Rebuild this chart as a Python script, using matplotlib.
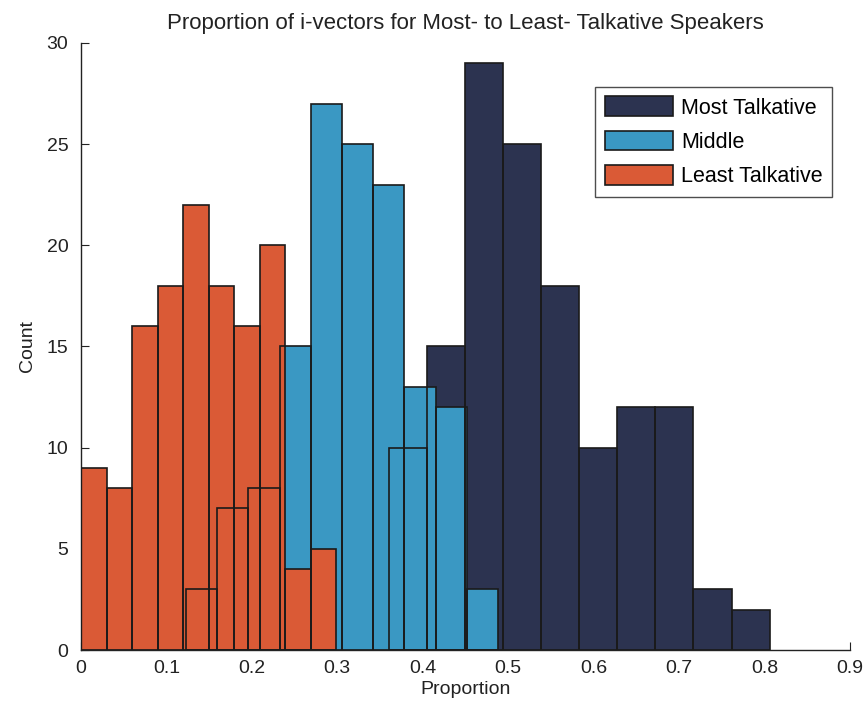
import numpy as np
import matplotlib
matplotlib.use("Agg")
import matplotlib.pyplot as plt
from matplotlib.patches import Patch

plt.rcParams['font.family'] = ['Liberation Sans', 'DejaVu Sans']

# histogram counts (10 bins each) and bin ranges
labels = ['Most Talkative', 'Middle', 'Least Talkative']
colors = ['#2c3350', '#3a98c3', '#da5a36']

most_counts = [10, 15, 29, 25, 18, 10, 12, 12, 3, 2]
most_range = (0.360, 0.806)

middle_counts = [3, 7, 8, 15, 27, 25, 23, 13, 12, 3]
middle_range = (0.123, 0.488)

least_counts = [9, 8, 16, 18, 22, 18, 16, 20, 4, 5]
least_range = (0.0, 0.299)

groups = [(most_counts, most_range), (middle_counts, middle_range),
          (least_counts, least_range)]

fig = plt.figure(figsize=(8.65, 7.1), dpi=100)
ax = fig.add_axes([0.0936, 0.0845, 0.889, 0.855])

# fills first, in drawing order
for (counts, rng), c in zip(groups, colors):
    edges = np.linspace(rng[0], rng[1], len(counts) + 1)
    ax.bar(edges[:-1], counts, width=np.diff(edges), align='edge',
           color=c, edgecolor='none', zorder=2)

# outlines show through all fills
for (counts, rng), c in zip(groups, colors):
    edges = np.linspace(rng[0], rng[1], len(counts) + 1)
    ax.bar(edges[:-1], counts, width=np.diff(edges), align='edge',
           facecolor='none', edgecolor='#1a1a1a', linewidth=1.2, zorder=3)

ax.set_xlim(0, 0.9)
ax.set_ylim(0, 30)
ax.set_xticks(np.arange(0, 0.91, 0.1))
ax.set_xticklabels(['0', '0.1', '0.2', '0.3', '0.4', '0.5', '0.6', '0.7', '0.8', '0.9'])
ax.set_yticks(range(0, 31, 5))
ax.tick_params(direction='in', length=6, labelsize=14, colors='#222222')
ax.tick_params(axis='y', pad=9)
ax.tick_params(axis='x', pad=7)
ax.spines['top'].set_visible(False)
ax.spines['right'].set_visible(False)
for s in ['left', 'bottom']:
    ax.spines[s].set_color('#222222')
    ax.spines[s].set_linewidth(1.0)

ax.set_xlabel('Proportion', fontsize=14, color='#222222', labelpad=3)
ax.set_ylabel('Count', fontsize=14, color='#222222', labelpad=8)
ax.set_title('Proportion of i-vectors for Most- to Least- Talkative Speakers',
             fontsize=16, color='#222222', pad=10,
             family=['Liberation Sans Narrow', 'Liberation Sans', 'DejaVu Sans'])

handles = [Patch(facecolor=c, edgecolor='#1a1a1a', linewidth=1.2) for c in colors]
leg = ax.legend(handles, labels, loc='upper right', bbox_to_anchor=(0.977, 0.928),
                fontsize=15.5, frameon=True, fancybox=False, handlelength=3.2,
                handleheight=1.05, borderpad=0.45, labelspacing=0.55,
                handletextpad=0.35, borderaxespad=0)
leg.get_frame().set_edgecolor('#222222')
leg.get_frame().set_linewidth(1.0)

fig.savefig('out.png', dpi=100)
